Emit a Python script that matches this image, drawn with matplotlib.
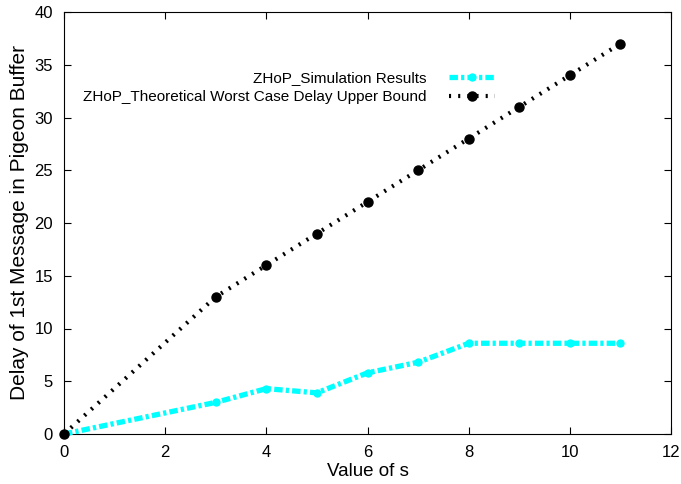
import matplotlib
matplotlib.use("Agg")
import matplotlib.pyplot as plt

x_values = [0, 3, 4, 5, 6, 7, 8, 9, 10, 11]
simulation = [0, 3.0, 4.3, 3.9, 5.8, 6.8, 8.6, 8.6, 8.6, 8.6]
theoretical = [0, 13, 16, 19, 22, 25, 28, 31, 34, 37]

plt.rcParams['font.family'] = ['Liberation Sans', 'DejaVu Sans']

fig = plt.figure(figsize=(6.81, 4.84), dpi=100)
L, R, T, B = 64, 671, 12, 434
ax = fig.add_axes([L/681, (484-B)/484, (R-L)/681, (B-T)/484])

ax.plot(x_values, simulation, color='#00ffff', linestyle=(0, (1.6, 0.6, 0.6, 0.6)), linewidth=3.8,
        marker='o', markersize=5, label='ZHoP_Simulation Results',
        dash_capstyle='butt', clip_on=False, zorder=3)
ax.plot(x_values, theoretical, color='black', linestyle=(0, (0.5, 1.7)), linewidth=3,
        marker='o', markersize=6.5, label='ZHoP_Theoretical Worst Case Delay Upper Bound',
        clip_on=False, zorder=4)

ax.set_xlim(0, 12)
ax.set_ylim(0, 40)
ax.set_xticks(range(0, 13, 2))
ax.set_yticks(range(0, 41, 5))
ax.tick_params(direction='in', top=True, right=True, labelsize=12, length=5)
ax.tick_params(axis='y', pad=8)
ax.tick_params(axis='x', pad=8)
ax.set_xlabel('Value of s', fontsize=13.5, labelpad=2)
ax.set_ylabel('Delay of 1st Message in Pigeon Buffer', fontsize=15, labelpad=4)

leg = ax.legend(loc='upper right', bbox_to_anchor=(0.71, 0.86), frameon=False,
                markerfirst=False, fontsize=11, handlelength=3, labelspacing=0.35,
                borderaxespad=0, borderpad=0, handletextpad=1.5)
for t in leg.get_texts():
    t.set_ha('right')
leg._legend_box.align = 'right'

fig.savefig('out.png', dpi=100)
